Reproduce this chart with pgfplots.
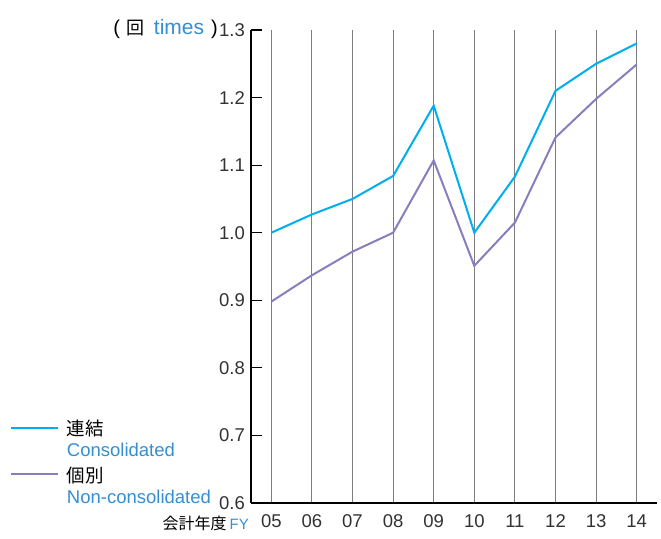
\documentclass[border=0pt]{standalone}
\usepackage{fontspec}
\setmainfont{Liberation Sans}
\newfontfamily\jp{Noto Sans CJK JP}
\usepackage{pgfplots}
\pgfplotsset{compat=1.18}
\definecolor{cblue}{RGB}{0,174,239}
\definecolor{cpurp}{RGB}{137,125,190}
\definecolor{tblue}{RGB}{52,142,210}
\definecolor{gridgray}{RGB}{125,125,125}
\definecolor{txt}{RGB}{50,50,50}
\pgfplotsset{legpurp/.style={legend image code/.code={\path (0bp,10.5bp); \draw[##1] (0bp,1.5bp) -- (47bp,1.5bp);}}}
\newcommand{\st}[2]{\rule[-#1bp]{0pt}{#2bp}}
\begin{document}
\fontsize{18bp}{22bp}\selectfont
\begin{tikzpicture}
\path[use as bounding box] (0,0) rectangle (661bp,539bp);
\begin{axis}[
  at={(251bp,36bp)}, anchor=south west,
  scale only axis, width=406bp, height=473bp,
  xmin=4.5, xmax=14.5, ymin=0.6, ymax=1.3,
  axis x line=bottom, axis y line=left,
  axis line style={-, line width=1.3bp, black},
  xtick={5,6,7,8,9,10,11,12,13,14},
  xticklabels={05,06,07,08,09,10,11,12,13,14},
  xtick style={draw=none},
  ytick={0.6,0.7,0.8,0.9,1.0,1.1,1.2,1.3},
  ytick align=inside,
  ytick style={line width=1.1bp, black},
  major tick length=11bp,
  yticklabel style={/pgf/number format/fixed, /pgf/number format/fixed zerofill, /pgf/number format/precision=1},
  /pgf/number format/assume math mode=true,
  tick label style={font=\fontsize{18.5bp}{22bp}\selectfont, text=txt},
  xmajorgrids,
  grid style={gridgray, line width=0.9bp},
  clip=false,
  legend cell align=left,
  legend style={at={(-0.5936,0.1755)}, anchor=north west, draw=none, fill=none,
    inner sep=0pt, outer sep=0pt, row sep=5bp, column sep=8bp,
    nodes={inner sep=0pt, outer sep=0pt},
    font=\fontsize{18.5bp}{22bp}\selectfont},
  legend image code/.code={\draw[#1] (0bp,1.5bp) -- (47bp,1.5bp);},
]
\addplot[cblue, line width=2bp] coordinates {
(5,1.000) (6,1.027) (7,1.050) (8,1.084) (9,1.188) (10,1.000) (11,1.083) (12,1.210) (13,1.250) (14,1.280)};
\addlegendentry{\st{5}{15}{\jp 連結}}
\addlegendimage{empty legend}
\addlegendentry{\st{11}{15}\textcolor{tblue}{Consolidated}}
\addplot[cpurp, line width=2bp, legpurp] coordinates {
(5,0.898) (6,0.937) (7,0.972) (8,1.000) (9,1.107) (10,0.951) (11,1.015) (12,1.141) (13,1.198) (14,1.249)};
\addlegendentry{\st{5}{15}{\jp 個別}}
\addlegendimage{empty legend}
\addlegendentry{\st{5}{15}\textcolor{tblue}{Non-consolidated}}
\node[anchor=east, inner sep=0pt] at (rel axis cs:0,1) [xshift=-33bp, yshift=1bp]
  {\fontsize{20bp}{22bp}\selectfont (\hspace{7bp}{\jp\fontsize{18bp}{22bp}\selectfont 回}\hspace{9bp}\textcolor{tblue}{\fontsize{21bp}{22bp}\selectfont times}\hspace{7bp})};
\node[anchor=east, inner sep=0pt] at (rel axis cs:0,0) [xshift=-2bp, yshift=-20bp]
  {{\jp\fontsize{16bp}{20bp}\selectfont 会計年度}\,{\fontsize{15bp}{20bp}\selectfont\textcolor{tblue}{FY}}};
\end{axis}
\end{tikzpicture}
\end{document}
